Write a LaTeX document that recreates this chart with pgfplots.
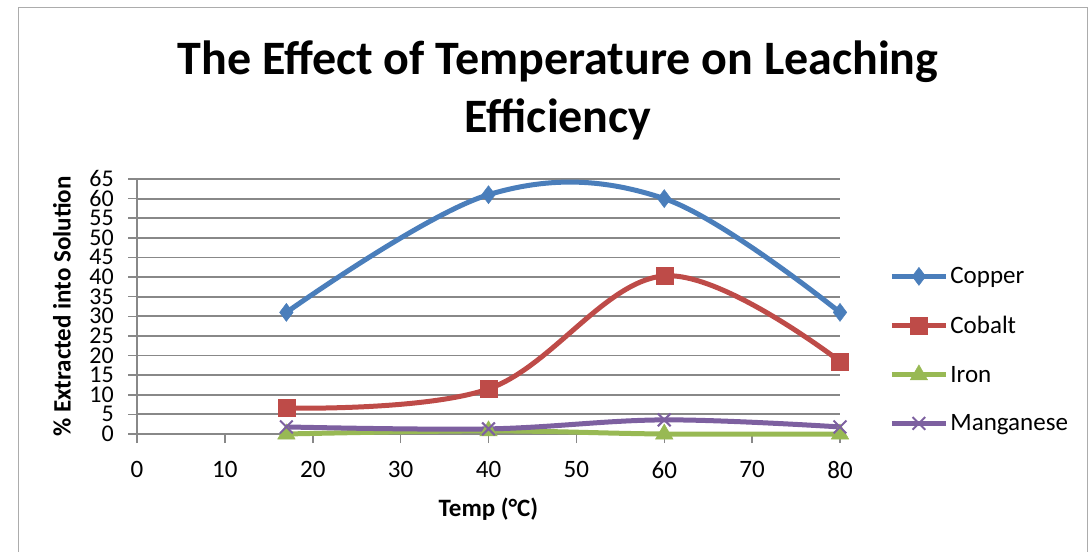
\documentclass[border=0pt]{standalone}
\usepackage{fontspec}
\setmainfont{Carlito}
\usepackage{pgfplots}
\pgfplotsset{compat=1.18}
\definecolor{copper}{HTML}{4A7EBB}
\definecolor{cobalt}{HTML}{BE4B48}
\definecolor{iron}{HTML}{98B954}
\definecolor{mangan}{HTML}{7D60A0}
\definecolor{gridgray}{HTML}{888888}
\begin{document}
\begin{tikzpicture}
\useasboundingbox (0pt,0pt) rectangle (1091pt,552pt);
\draw[gridgray!70, line width=1pt] (18pt,0pt) -- (18pt,544pt) -- (1087pt,544pt) -- (1087pt,0pt);
\node[align=center, font=\fontsize{48}{58}\selectfont\bfseries] at (558pt,462pt)
  {The Effect of Temperature on Leaching\\Efficiency};
\begin{axis}[
  at={(137pt,118pt)}, anchor=south west,
  scale only axis, width=703pt, height=255pt,
  xmin=0, xmax=80, ymin=0, ymax=65,
  xtick={0,10,...,80}, ytick={0,5,...,65},
  axis x line=bottom, axis y line=left,
  axis line style={gridgray, line width=1.5pt, -},
  x axis line style={line width=2pt},
  tick style={gridgray, line width=1.5pt},
  tick align=outside, major tick length=9pt,
  ymajorgrids, major grid style={gridgray, line width=1.8pt},
  /pgf/number format/assume math mode=true,
  tick label style={font=\fontsize{25}{25}\selectfont},
  xticklabel style={yshift=-15pt},
  yticklabel style={font=\fontsize{24}{24}\selectfont, xshift=-14pt, inner sep=0pt, text height=15pt, text depth=0pt},
  xlabel={Temp (°C)}, ylabel={\% Extracted into Solution},
  label style={font=\fontsize{25}{25}\selectfont\bfseries},
  xlabel style={yshift=-12pt},
  ylabel style={at={(axis description cs:0,0.5)}, anchor=center, yshift=75pt},
  clip=false,
  every axis plot/.append style={smooth, tension=0.6, line width=5pt},
  legend style={at={(1.07,0.33)}, anchor=west, draw=none, fill=none,
    font=\fontsize{25}{25}\selectfont, row sep=27pt, inner sep=0pt,
    legend cell align=left},
  legend image code/.code={
    \draw[#1, mark repeat=2, mark phase=2] plot coordinates {(0pt,0pt) (27pt,0pt) (54pt,0pt)};},
]
\addplot[copper, mark=diamond*, mark size=9pt, mark options={line width=0.5pt, solid}]
  coordinates {(17,31) (40,61) (60,60) (80,31)};
\addplot[cobalt, mark=square*, mark size=8.5pt, mark options={line width=0.5pt, solid}]
  coordinates {(17,6.6) (40,11.5) (60,40.3) (80,18.5)};
\addplot[iron, mark=triangle*, mark size=10pt, mark options={line width=0.5pt, solid}]
  coordinates {(17,0) (40,0.8) (60,0) (80,0)};
\addplot[mangan, mark=x, mark size=9pt, mark options={line width=2pt, solid}]
  coordinates {(17,1.8) (40,1.3) (60,3.6) (80,1.8)};
\legend{Copper, Cobalt, Iron, Manganese}
\end{axis}
\end{tikzpicture}
\end{document}
